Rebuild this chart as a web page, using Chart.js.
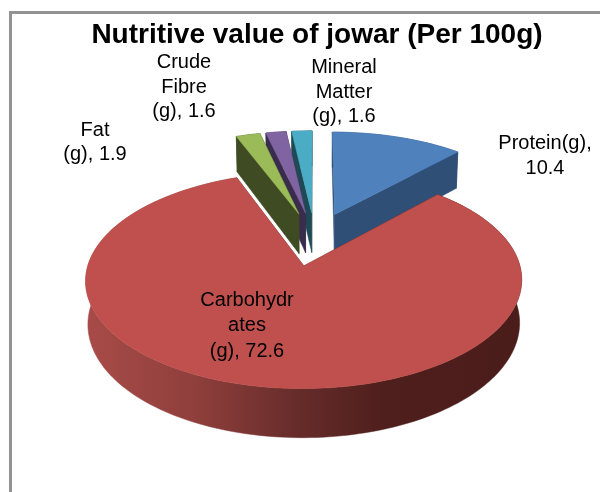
<!DOCTYPE html>
<html>
<head>
<meta charset="utf-8">
<title>Nutritive value of jowar</title>
<script src="https://cdn.jsdelivr.net/npm/chart.js@4"></script>
<style>
    html, body { margin: 0; background: #fff; overflow: hidden; }
    #frame { position: absolute; left: 9px; top: 11px; width: 640px; height: 520px; border: 3px solid #929292; }
    #jowarChart { position: absolute; left: 0; top: 0; }
</style>
</head>
<body>
<div id="frame"></div>
<canvas id="jowarChart" width="634" height="492"></canvas>
<script>
// --- Data ---
const categories = ['Protein(g)', 'Carbohydrates (g)', 'Fat (g)', 'Crude Fibre (g)', 'Mineral Matter (g)'];
const values = [10.4, 72.6, 1.9, 1.6, 1.6];
const topColors = ['#4f81bd', '#c0504d', '#9bbb59', '#8064a2', '#4bacc6'];
const wallColors = ['#304f77', '#4c1e1c', '#3f4c23', '#3a2c4c', '#1f4a55'];
const labelLines = [
    ['Protein(g),', '10.4'],
    ['Carbohydr', 'ates', '(g), 72.6'],
    ['Fat', '(g), 1.9'],
    ['Crude', 'Fibre', '(g), 1.6'],
    ['Mineral', 'Matter', '(g), 1.6']
];

// --- Label placement: centre x, middle y of each line ---
const labelX = [545, 247, 95, 184, 344];
const labelY = [[143, 168], [300, 325, 351], [130, 154], [62, 87, 111], [67, 92, 116]];

// --- 3D view settings (fitted by eye) ---
const view = { cx: 314.8, cy: 238.7, ax: 208.6, ay: 99, persp: 0.13, depth: 41, explode: 0.27 };

// Plane coords (u right, v towards viewer, radius 1) to screen
function project(u, v, lower) {
    const w = 1 - view.persp * v;
    const x = view.cx + view.ax * u / w * (lower ? 0.99 : 1);
    const y = view.cy + view.ay * v / w + (lower ? view.depth / w : 0);
    return [x, y];
}

function tracePath(ctx, pts) {
    ctx.beginPath();
    pts.forEach((p, i) => i ? ctx.lineTo(p[0], p[1]) : ctx.moveTo(p[0], p[1]));
    ctx.closePath();
}

// Draws the arcs Chart.js laid out as tilted, exploded 3D slices
const pie3d = {
    id: 'pie3d',
    beforeDatasetsDraw(chart) {
        const ctx = chart.ctx;
        const slices = chart.getDatasetMeta(0).data.map((arc, i) => {
            const { startAngle, endAngle } = arc.getProps(['startAngle', 'endAngle'], true);
            const mid = (startAngle + endAngle) / 2;
            return {
                i, startAngle, endAngle,
                ou: Math.cos(mid) * view.explode,
                ov: Math.sin(mid) * view.explode
            };
        });

        // back slices first
        slices.sort((a, b) => a.ov - b.ov);

        slices.forEach(s => {
            const step = (s.endAngle - s.startAngle) / Math.ceil((s.endAngle - s.startAngle) * 40);
            const rim = [];
            for (let a = s.startAngle; a <= s.endAngle + 1e-6; a += step) {
                rim.push([s.ou + Math.cos(a), s.ov + Math.sin(a)]);
            }
            const top = rim.map(p => project(p[0], p[1], false));
            const low = rim.map(p => project(p[0], p[1], true));
            const apexTop = project(s.ou, s.ov, false);
            const apexLow = project(s.ou, s.ov, true);

            ctx.save();
            ctx.fillStyle = wallColors[s.i];
            ctx.strokeStyle = wallColors[s.i];
            ctx.lineWidth = 0.5;

            // radial walls
            [[top[0], low[0]], [top[top.length - 1], low[low.length - 1]]].forEach(e => {
                tracePath(ctx, [apexTop, e[0], e[1], apexLow]);
                ctx.fill();
                ctx.stroke();
            });

            // outer wall, the big slice gets the shaded rim
            if (s.i === 1) {
                const g = ctx.createLinearGradient(86, 0, 522, 0);
                g.addColorStop(0, '#a84b48');
                g.addColorStop(0.25, '#8f3f3c');
                g.addColorStop(0.5, '#642b29');
                g.addColorStop(0.68, '#4f1f1d');
                g.addColorStop(1, '#4a1c1a');
                ctx.fillStyle = g;
                ctx.strokeStyle = g;
            }
            tracePath(ctx, top.concat(low.slice().reverse()));
            ctx.fill();
            ctx.stroke();

            // top face
            ctx.fillStyle = topColors[s.i];
            ctx.strokeStyle = topColors[s.i];
            tracePath(ctx, [apexTop].concat(top));
            ctx.fill();
            ctx.stroke();
            ctx.restore();
        });
        return false; // flat arcs are replaced by the above
    },
    afterDraw(chart) {
        const ctx = chart.ctx;
        ctx.save();
        ctx.fillStyle = '#000';
        ctx.font = '20px "Liberation Sans", Arial, sans-serif';
        ctx.textAlign = 'center';
        ctx.textBaseline = 'middle';
        labelLines.forEach((lines, i) => {
            lines.forEach((line, j) => ctx.fillText(line, labelX[i], labelY[i][j]));
        });
        ctx.restore();
    }
};

new Chart(document.getElementById('jowarChart').getContext('2d'), {
    type: 'pie',
    data: {
        labels: categories,
        datasets: [{ data: values, backgroundColor: topColors, borderWidth: 0 }]
    },
    options: {
        responsive: false,
        animation: false,
        plugins: {
            legend: { display: false },
            tooltip: { enabled: false },
            title: {
                display: true,
                text: 'Nutritive value of jowar (Per 100g)',
                color: '#000',
                font: { family: '"Liberation Sans", Arial, sans-serif', size: 28, weight: 'bold' },
                padding: { top: 18, bottom: 0 }
            }
        }
    },
    plugins: [pie3d]
});
</script>
</body>
</html>
